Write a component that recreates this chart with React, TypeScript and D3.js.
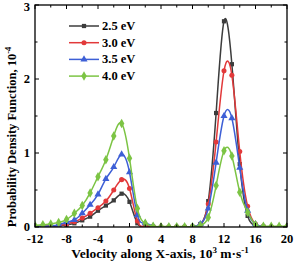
import * as d3 from "d3";

const velocity = [-12, -11, -10, -9, -8, -7, -6, -5, -4, -3, -2, -1, 0, 1, 2, 3, 4, 5, 6, 7, 8, 9, 10, 11, 12, 13, 14, 15, 16, 17, 18, 19, 20];

const pdf25 = [0.005, 0.008, 0.01, 0.015, 0.03, 0.05, 0.09, 0.14, 0.22, 0.29, 0.36, 0.45, 0.34, 0.05, 0.01, 0.005, 0, 0, 0, 0, 0.003, 0.04, 0.35, 1.54, 2.78, 2.2, 0.85, 0.15, 0.02, 0.005, 0, 0, 0];
const pdf30 = [0.005, 0.01, 0.015, 0.02, 0.04, 0.07, 0.12, 0.185, 0.26, 0.35, 0.5, 0.64, 0.52, 0.08, 0.015, 0.005, 0, 0, 0, 0, 0.003, 0.03, 0.31, 1.15, 2.11, 2.05, 1.02, 0.28, 0.04, 0.005, 0, 0, 0];
const pdf35 = [0.008, 0.01, 0.015, 0.03, 0.065, 0.095, 0.185, 0.3, 0.44, 0.65, 0.81, 0.98, 0.74, 0.16, 0.05, 0.01, 0, 0, 0, 0, 0.005, 0.04, 0.25, 0.87, 1.5, 1.47, 0.8, 0.22, 0.04, 0.005, 0, 0, 0];
const pdf40 = [0.02, 0.03, 0.04, 0.06, 0.1, 0.185, 0.29, 0.46, 0.68, 0.91, 1.23, 1.4, 0.93, 0.25, 0.05, 0.01, 0.005, 0.005, 0.005, 0.005, 0.005, 0.02, 0.13, 0.56, 1.03, 0.96, 0.47, 0.2, 0.03, 0.01, 0.01, 0.01, 0.01];

const seriesNames = ["2.5 eV", "3.0 eV", "3.5 eV", "4.0 eV"];
const xTicks = [-12, -8, -4, 0, 4, 8, 12, 16, 20];
const yTicks = [0, 1, 2, 3];

const W = 294;
const H = 261;
const left = 35;
const right = 287;
const top = 5;
const bottom = 227;

const colors = ["#3c3c3c", "#e2393a", "#3d5fd6", "#7cc444"];
const symbols = [d3.symbolSquare, d3.symbolCircle, d3.symbolTriangle, d3.symbolDiamond];
const symSizes = [18, 20, 22, 26];

const x = d3.scaleLinear().domain([-12, 20]).range([left, right]);
const y = d3.scaleLinear().domain([0, 3]).range([bottom, top]);

const font = "'Liberation Serif', 'Times New Roman', serif";

export default function App() {
  const all = [pdf25, pdf30, pdf35, pdf40];
  const line = d3
    .line<number>()
    .x((_, i) => x(velocity[i]))
    .y((d) => y(d))
    .curve(d3.curveNatural);

  const xMinor = d3.range(-12, 20.01, 2);
  const yMinor = d3.range(0, 3.01, 0.5);

  return (
    <svg width={W} height={H} style={{ position: "absolute", left: 0, top: 0, background: "#fff" }}>
      <defs>
        <clipPath id="plot">
          <rect x={left} y={top} width={right - left} height={bottom - top} />
        </clipPath>
      </defs>

      <g clipPath="url(#plot)">
        {all.map((vals, s) => (
          <g key={s}>
            <path d={line(vals) ?? ""} fill="none" stroke={colors[s]} strokeWidth={1.5} />
            {vals.map((v, i) => (
              <path
                key={i}
                transform={`translate(${x(velocity[i])},${y(v)})`}
                d={d3.symbol(symbols[s], symSizes[s])() ?? ""}
                fill={colors[s]}
              />
            ))}
          </g>
        ))}
      </g>

      {/* ticks, inward on all four sides */}
      <g stroke="#000" strokeWidth={1}>
        {xMinor.map((t) => {
          const len = t % 4 === 0 ? 4 : 2.5;
          return (
            <g key={t}>
              <line x1={x(t)} x2={x(t)} y1={bottom} y2={bottom - len} />
              <line x1={x(t)} x2={x(t)} y1={top} y2={top + len} />
            </g>
          );
        })}
        {yMinor.map((t) => {
          const len = Number.isInteger(t) ? 4 : 2.5;
          return (
            <g key={t}>
              <line x1={left} x2={left + len} y1={y(t)} y2={y(t)} />
              <line x1={right} x2={right - len} y1={y(t)} y2={y(t)} />
            </g>
          );
        })}
      </g>

      <rect x={left} y={top} width={right - left} height={bottom - top} fill="none" stroke="#000" strokeWidth={1.3} />

      <g fontFamily={font} fontWeight="bold" fontSize={12.5} fill="#000">
        {xTicks.map((t) => (
          <text key={t} x={x(t)} y={bottom + 16} textAnchor="middle">
            {t < 0 ? `-${Math.abs(t)}` : t}
          </text>
        ))}
        {yTicks.map((t) => (
          <text key={t} x={left - 5} y={Math.max(y(t) + 4, 11)} textAnchor="end">
            {t}
          </text>
        ))}
      </g>

      <text x={160} y={258} textAnchor="middle" fontFamily={font} fontWeight="bold" fontSize={13.5}>
        Velocity along X-axis, 10
        <tspan fontSize={9} dy={-5}>3</tspan>
        <tspan dy={5}> m·s</tspan>
        <tspan fontSize={9} dy={-5}>-1</tspan>
      </text>

      <text
        transform={`translate(16,137) rotate(-90)`}
        textAnchor="middle"
        fontFamily={font}
        fontWeight="bold"
        fontSize={12.5}
      >
        Probability Density Function, 10
        <tspan fontSize={8.5} dy={-5}>-4</tspan>
      </text>

      <g fontFamily={font} fontWeight="bold" fontSize={12.5}>
        {seriesNames.map((n, s) => {
          const ly = 26 + s * 16.7;
          return (
            <g key={n}>
              <line x1={69} x2={99} y1={ly} y2={ly} stroke={colors[s]} strokeWidth={1.5} />
              <path transform={`translate(84,${ly})`} d={d3.symbol(symbols[s], symSizes[s])() ?? ""} fill={colors[s]} />
              <text x={102} y={ly + 4}>
                {n}
              </text>
            </g>
          );
        })}
      </g>
    </svg>
  );
}
